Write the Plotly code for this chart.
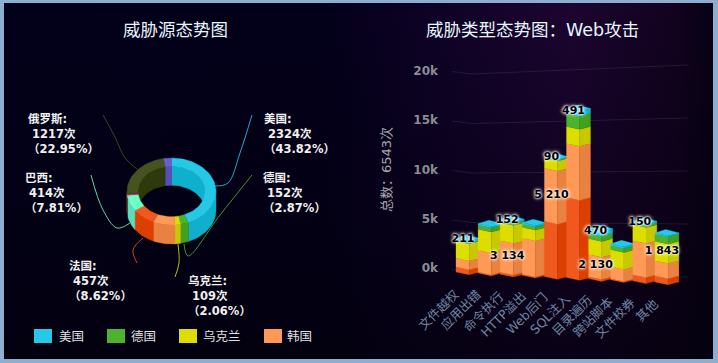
import math
import plotly.graph_objects as go

# ---------- data ----------
countries = ["美国", "德国", "乌克兰", "韩国", "法国", "巴西", "其他A", "其他B", "俄罗斯", "其他C"]
country_counts = [2324, 152, 109, 424, 457, 414, 30, 26, 1217, 150]
labelled = {"美国": "43.82%", "德国": "2.87%", "乌克兰": "2.06%", "法国": "8.62%", "巴西": "7.81%", "俄罗斯": "22.95%"}

attack_types = ["文件越权", "应用出错", "命令执行", "HTTP溢出", "Web后门", "SQL注入", "目录遍历", "跨站脚本", "文件校券", "其他"]
fr = [500, 100, 200, 100, 5390, 7770, 190, 100, 570, 570]
kr = [900, 2200, 3134, 3550, 5210, 5250, 2130, 1150, 3230, 1420]
ua = [1720, 2100, 1790, 1090, 980, 1650, 1540, 1630, 1520, 1843]
de = [60, 400, 200, 300, 50, 1260, 480, 380, 190, 660]
us = [211, 150, 152, 150, 90, 491, 470, 170, 150, 130]
y_ticks = [0, 5000, 10000, 15000, 20000]
y_tick_text = ["0k", "5k", "10k", "15k", "20k"]
legend_names = ["美国", "德国", "乌克兰", "韩国"]

# ---------- style ----------
W, H = 718, 363
CN = "'DejaVu Sans','Noto Sans CJK SC',sans-serif"
ring_tones = {  # top, outer wall, inner wall
    "美国": ("#25C8E6", "#12AFCC", "#0FB0CE"), "德国": ("#4DB22E", "#3FA11C", "#3FA11C"),
    "乌克兰": ("#DDDD00", "#C8C800", "#C8C800"), "韩国": ("#FF9955", "#E98240", "#E98240"),
    "法国": ("#F0581E", "#DC3F00", "#DC3F00"), "巴西": ("#6DFFC8", "#5ADDB8", "#5ADDB8"),
    "其他A": ("#D53A50", "#B02A40", "#B02A40"), "其他B": ("#5A2A60", "#4A2050", "#4A2050"),
    "俄罗斯": ("#465320", "#465320", "#2F3A0C"), "其他C": ("#6B5FCB", "#5A4FB8", "#5A4FB8"),
}
CX, CY, RX, RY, IRX, DEPTH = 171.5, 191.5, 44.5, 33.5, 33.5, 19
leaders = {
    "美国": [(215, 186), (228, 183), (240, 153), (252, 115)],
    "德国": [(184, 244), (188, 256), (220, 215), (252, 175)],
    "乌克兰": [(178, 244), (179, 263), (175, 277)],
    "法国": [(143, 238), (133, 250), (137, 263)],
    "巴西": [(130, 223), (117, 228), (103, 210), (91, 175)],
    "俄罗斯": [(137, 169), (125, 158), (115, 137), (103, 115)],
}
label_pos = {"美国": (262, 110), "德国": (261, 169), "乌克兰": (186, 272), "法国": (67, 257), "巴西": (23, 169), "俄罗斯": (26, 110)}
legend_px = [(34, 57, "#25C8E6"), (107, 129, "#4DB22E"), (179, 201, "#DDDD00"), (264, 285, "#FF9955")]
bar_tones = [("法国", fr, "#F0581E", "#DC3F00"), ("韩国", kr, "#FF9955", "#E98240"), ("乌克兰", ua, "#DDDD00", "#C8C800"),
             ("德国", de, "#4DB22E", "#3FA11C"), ("美国", us, "#25C8E6", "#12AFCC")]
show_labels = {"韩国": [2, 4, 6], "乌克兰": [9], "美国": [0, 2, 4, 5, 6, 8]}

PX0, DX = 468.0, 22.1        # bar centre in pixels
Y0, SC = 268.0, 9.85         # 0k label pixel, px per 1000
AX_L, AX_R, AX_T, AX_B = 440, 700, 60, 330
PXV = 1000 / SC              # value units per pixel

fig = go.Figure()

# ---------- background ----------
panel_x = [4, 713, 713, 4, 4]
panel_y = [3, 3, 359, 359, 3]
fig.add_trace(go.Scatter(x=panel_x, y=panel_y, mode="lines", fill="toself", line=dict(width=0),
                         fillgradient=dict(type="horizontal", colorscale=[[0, "#02011A"], [0.45, "#03001A"], [0.6, "#0E0226"], [0.8, "#1C0530"], [0.95, "#12021F"], [1, "#070214"]]),
                         hoverinfo="skip", showlegend=False, xaxis="x", yaxis="y"))
fig.add_trace(go.Scatter(x=panel_x, y=panel_y, mode="lines", fill="toself", line=dict(width=0),
                         fillgradient=dict(type="vertical", colorscale=[[0, "rgba(3,0,12,0.75)"], [0.35, "rgba(3,0,12,0.45)"], [1, "rgba(3,0,12,0)"]]),
                         hoverinfo="skip", showlegend=False, xaxis="x", yaxis="y"))

# ---------- ring ----------
def pt(rx, deg, dy=0):
    t = math.radians(deg)
    return CX + rx * math.sin(t), CY - rx * (RY / RX) * math.cos(t) + dy

def arc(a, b, n=None):
    n = n or max(2, int(abs(b - a) / 3) + 2)
    return [a + (b - a) * k / (n - 1) for k in range(n)]

def poly(points, color):
    xs = [p[0] for p in points] + [points[0][0]]
    ys = [p[1] for p in points] + [points[0][1]]
    fig.add_trace(go.Scatter(x=xs, y=ys, mode="lines", fill="toself", fillcolor=color, line=dict(width=0.4, color=color),
                             hoverinfo="skip", showlegend=False, xaxis="x", yaxis="y"))

total = sum(country_counts)
start = 0.0
spans = []
for n, c in zip(countries, country_counts):
    end = start + 360 * c / total
    spans.append((n, start, end))
    start = end

for n, pts in leaders.items():
    fig.add_trace(go.Scatter(x=[p[0] for p in pts], y=[p[1] for p in pts], mode="lines",
                             line=dict(color=ring_tones[n][0], width=1, shape="spline", smoothing=1),
                             opacity=0.85, hoverinfo="skip", showlegend=False, xaxis="x", yaxis="y"))

for n, a, b in spans:           # inner wall, back half
    for lo, hi in ((0, 90), (270, 360)):
        l, h = max(a, lo), min(b, hi)
        if h > l:
            th = arc(l, h)
            poly([pt(IRX, t) for t in th] + [pt(IRX, t, DEPTH) for t in reversed(th)], ring_tones[n][2])
for n, a, b in spans:           # outer wall, front half
    l, h = max(a, 90), min(b, 270)
    if h > l:
        th = arc(l, h)
        poly([pt(RX, t) for t in th] + [pt(RX, t, DEPTH) for t in reversed(th)], ring_tones[n][1])
for n, a, b in spans:           # top face
    th = arc(a, b)
    poly([pt(RX, t) for t in th] + [pt(IRX, t) for t in reversed(th)], ring_tones[n][0])

# ---------- bars ----------
def to_x(px):
    return (px - PX0) / DX

def scale(i):
    return (9.9 + 0.078 * i) / SC

def drop(i):
    return (4 + 1.1 * i) * PXV

BW = 24 / DX
def bar_pt(i, u, v, bend=True):
    b = 0.0
    if bend:
        b = (u / 0.55 if u <= 0.55 else (1 - u) / 0.45) * 2.8
    return i + (u - 0.5) * BW, v * scale(i) - drop(i) - b * PXV

def grid_y(v, px):
    if px <= 472:
        back = (px - 452) / 20 * 2.5
        sc, y0 = 9.9, 269.5 + back
    else:
        f = (px - 472) / 216
        sc, y0 = 9.9 + 0.7 * f, 272 + 5 * f
    return (Y0 - (y0 - v / 1000 * sc)) * PXV

grid_px = [452, 472, 688]
for v in y_ticks:
    fig.add_trace(go.Scatter(x=[to_x(p) for p in grid_px], y=[grid_y(v, p) for p in grid_px], mode="lines",
                             line=dict(color="rgba(255,255,255,0.09)", width=1), hoverinfo="skip", showlegend=False,
                             xaxis="x2", yaxis="y2"))

label_x, label_y, label_t = [], [], []
for i in range(len(attack_types)):
    base = 0
    for name, vals, c1, c2 in bar_tones:
        v = vals[i]
        top = base + v
        for u0, u1, col in ((0, 0.55, c1), (0.55, 1, c2)):
            p = [bar_pt(i, u0, base), bar_pt(i, u1, base), bar_pt(i, u1, top), bar_pt(i, u0, top), bar_pt(i, u0, base)]
            fig.add_trace(go.Scatter(x=[q[0] for q in p], y=[q[1] for q in p], mode="lines", fill="toself", fillcolor=col,
                                     line=dict(width=0.3, color=col), hoverinfo="skip", showlegend=False, xaxis="x2", yaxis="y2"))
        if i in show_labels.get(name, []):
            lx, ly = bar_pt(i, 0.5, (base + top) / 2, bend=False)
            label_x.append(lx - 5 / DX)
            label_y.append(ly)
            label_t.append(f"{v:,}".replace(",", " "))
        base = top
    # top face of the whole stack
    name, vals, c1, c2 = bar_tones[-1]
    a, b, c = bar_pt(i, 0, base), bar_pt(i, 0.55, base), bar_pt(i, 1, base)
    back = (i + (0.45 - 0.5) * BW, base * scale(i) - drop(i) + 3.5 * PXV)
    p = [a, b, c, back, a]
    fig.add_trace(go.Scatter(x=[q[0] for q in p], y=[q[1] for q in p], mode="lines", fill="toself", fillcolor=c1,
                             line=dict(width=0.3, color=c1), hoverinfo="skip", showlegend=False, xaxis="x2", yaxis="y2"))

fig.add_trace(go.Scatter(x=label_x, y=label_y, text=label_t, mode="text", textposition="middle center",
                         textfont=dict(family=CN, size=11, color="#000000", weight="bold",
                                       shadow="0 0 2px #fff, 0 0 3px #fff, 0 0 4px #fff"),
                         hoverinfo="skip", showlegend=False, xaxis="x2", yaxis="y2"))

# ---------- text ----------
ann = []
def A(**k):
    ann.append(k)

A(text="威胁源态势图", x=175, y=30, xref="x", yref="y", showarrow=False, font=dict(family=CN, size=17.5, color="#E6F6FF"))
A(text="威胁类型态势图：Web攻击", x=532, y=30, xref="x", yref="y", showarrow=False, font=dict(family=CN, size=17.5, color="#E6F6FF"))
for n, (lx, ly) in label_pos.items():
    c = country_counts[countries.index(n)]
    A(text=f"<b>{n}:<br>\u00a0{c}次<br>（{labelled[n]}）</b>", x=lx, y=ly, xref="x", yref="y", xanchor="left", yanchor="top",
      align="left", showarrow=False, font=dict(family=CN, size=11.5, color="#F0F0F0"))
shapes = []
for (sx, tx, col), n in zip(legend_px, legend_names):
    shapes.append(dict(type="rect", xref="x", yref="y", x0=sx, x1=sx + 18, y0=329, y1=343, fillcolor=col, line=dict(width=0)))
    A(text=n, x=tx, y=336, xref="x", yref="y", xanchor="left", showarrow=False, font=dict(family=CN, size=12.5, color="#E0E0E0"))
A(text="总数：6543次", x=386, y=170, xref="x", yref="y", textangle=-90, showarrow=False, font=dict(family=CN, size=13, color="#A8A8B0"))
for i, t in enumerate(attack_types):
    A(text=t, x=i - 3 / DX, y=(Y0 - (283 + 1.1 * i)) * PXV, xref="x2", yref="y2", xanchor="right", yanchor="top", textangle=-45,
      showarrow=False, font=dict(family=CN, size=12.5, color="#6F86A5"))

fig.update_layout(
    width=W, height=H, margin=dict(l=0, r=0, t=0, b=0), paper_bgcolor="#8FAECF", plot_bgcolor="rgba(0,0,0,0)",
    showlegend=False, annotations=ann, shapes=shapes,
    xaxis=dict(domain=[0, 1], range=[0, W], visible=False, fixedrange=True),
    yaxis=dict(domain=[0, 1], range=[H, 0], visible=False, fixedrange=True),
    xaxis2=dict(domain=[AX_L / W, AX_R / W], range=[to_x(AX_L), to_x(AX_R)], anchor="y2", visible=False, fixedrange=True),
    yaxis2=dict(domain=[1 - AX_B / H, 1 - AX_T / H], range=[(Y0 - AX_B) * PXV, (Y0 - AX_T) * PXV], anchor="x2", fixedrange=True,
                tickvals=y_ticks, ticktext=y_tick_text, showgrid=False, zeroline=False, showline=False, ticks="",
                ticklabelstandoff=1, tickfont=dict(family=CN, size=12, color="#8C8C94", weight="bold")),
)
fig.write_html("out.html", config=dict(displayModeBar=False), post_script="document.body.style.margin='0';")
